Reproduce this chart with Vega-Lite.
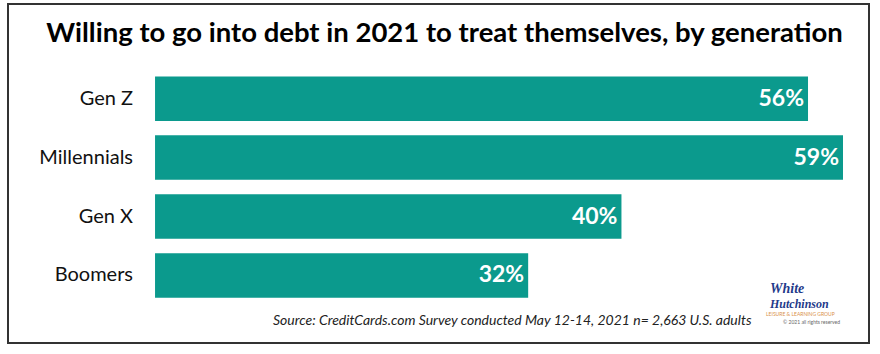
{
  "$schema": "https://vega.github.io/schema/vega-lite/v6.json",
  "width": 861,
  "height": 339,
  "autosize": {"type": "none"},
  "padding": {"left": 8, "top": 4, "right": 11, "bottom": 11},
  "background": "white",
  "config": {"view": {"stroke": "#333333", "strokeWidth": 2}, "font": "Lato"},
  "title": {
    "text": "Willing to go into debt in 2021 to treat themselves, by generation",
    "font": "Lato",
    "fontSize": 27.5,
    "fontWeight": "bold",
    "color": "#000000",
    "anchor": "middle",
    "frame": "group",
    "baseline": "alphabetic",
    "offset": -65,
    "dx": 6
  },
  "data": {
    "values": [
      {"generation": "Gen Z", "pct": 0.56},
      {"generation": "Millennials", "pct": 0.59},
      {"generation": "Gen X", "pct": 0.40},
      {"generation": "Boomers", "pct": 0.32}
    ]
  },
  "layer": [
    {
      "mark": {"type": "bar", "color": "#0B9A8D"},
      "encoding": {
        "y": {"field": "generation", "type": "nominal", "sort": null, "axis": null,
              "scale": {"paddingInner": 0.245, "paddingOuter": 1.03, "align": 0.615}},
        "x": {"field": "pct", "type": "quantitative",
              "scale": {"domain": [-0.1261, 0.6123], "nice": false, "zero": false},
              "axis": {"labels": false, "ticks": false, "domain": false, "grid": false,
                       "title": "Source: CreditCards.com Survey conducted May 12-14, 2021 n= 2,663 U.S. adults",
                       "titleFont": "Lato", "titleFontStyle": "italic", "titleFontWeight": "normal",
                       "titleFontSize": 14, "titleColor": "#222222",
                       "titleX": 743, "titleY": -19, "titleAlign": "right", "titleBaseline": "alphabetic"}}
      }
    },
    {
      "mark": {"type": "text", "align": "right", "baseline": "middle", "dx": -4, "color": "white", "fontWeight": "bold", "fontSize": 23, "font": "Lato"},
      "encoding": {
        "y": {"field": "generation", "type": "nominal", "sort": null},
        "x": {"field": "pct", "type": "quantitative"},
        "text": {"field": "pct", "type": "quantitative", "format": ".0%"}
      }
    },
    {
      "mark": {"type": "text", "align": "right", "baseline": "middle", "dx": -22, "color": "#111111", "fontSize": 20, "font": "Lato"},
      "encoding": {
        "y": {"field": "generation", "type": "nominal", "sort": null},
        "x": {"datum": 0, "type": "quantitative"},
        "text": {"field": "generation"}
      }
    },
    {
      "data": {"values": [{"t": "White"}]},
      "mark": {"type": "text", "align": "left", "baseline": "alphabetic", "dy": 18, "color": "#1F3A8A", "fontSize": 14, "fontWeight": "bold", "fontStyle": "italic", "font": "Liberation Serif"},
      "encoding": {
        "y": {"datum": "Boomers", "type": "nominal"},
        "x": {"datum": 0.5274, "type": "quantitative"},
        "text": {"field": "t"}
      }
    },
    {
      "data": {"values": [{"t": "Hutchinson"}]},
      "mark": {"type": "text", "align": "left", "baseline": "alphabetic", "dy": 33, "color": "#1F3A8A", "fontSize": 12, "fontWeight": "bold", "fontStyle": "italic", "font": "Liberation Serif"},
      "encoding": {
        "y": {"datum": "Boomers", "type": "nominal"},
        "x": {"datum": 0.5274, "type": "quantitative"},
        "text": {"field": "t"}
      }
    },
    {
      "data": {"values": [{"t": "LEISURE & LEARNING GROUP"}]},
      "mark": {"type": "text", "align": "left", "baseline": "alphabetic", "dy": 41, "color": "#D9914A", "fontSize": 5, "font": "Lato"},
      "encoding": {
        "y": {"datum": "Boomers", "type": "nominal"},
        "x": {"datum": 0.5240, "type": "quantitative"},
        "text": {"field": "t"}
      }
    },
    {
      "data": {"values": [{"t": "© 2021 all rights reserved"}]},
      "mark": {"type": "text", "align": "left", "baseline": "alphabetic", "dy": 49, "color": "#666666", "fontSize": 5, "font": "Lato"},
      "encoding": {
        "y": {"datum": "Boomers", "type": "nominal"},
        "x": {"datum": 0.5386, "type": "quantitative"},
        "text": {"field": "t"}
      }
    }
  ]
}
